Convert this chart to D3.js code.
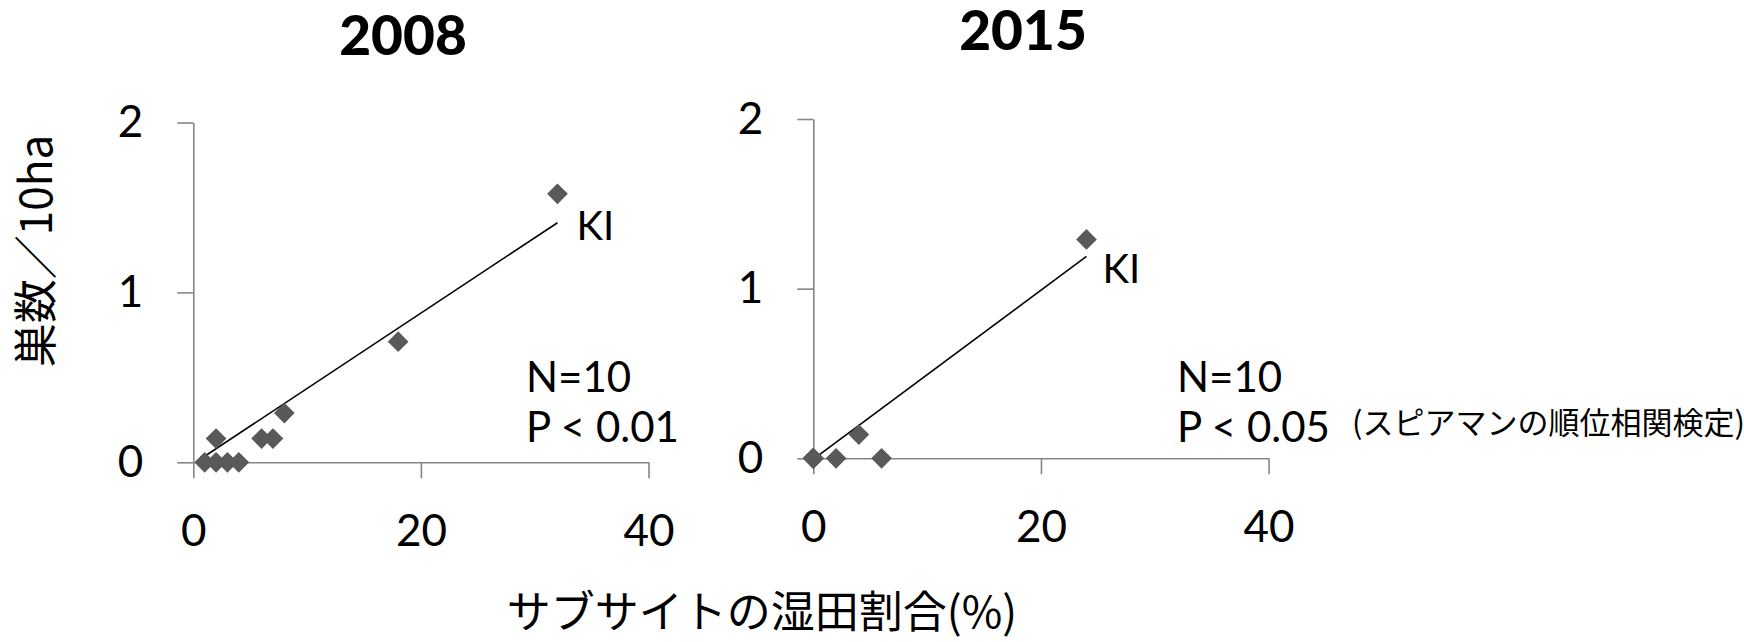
<!DOCTYPE html>
<html>
<head>
<meta charset="utf-8">
<script src="https://cdn.jsdelivr.net/npm/d3@7"></script>
<style>
  html, body { margin: 0; padding: 0; background: #fff; }
  svg { display: block; }
  text { font-family: Lato, "Noto Sans CJK JP", sans-serif; fill: #000; }
  .jp { font-family: "Noto Sans CJK JP", Lato, sans-serif; }
</style>
</head>
<body>
<svg id="chart" width="1744" height="642"></svg>
<script>
// Wet-paddy share of each subsite (%) vs. nests per 10 ha, two survey years
const years = ["2008", "2015"];

const wetShare2008 = [32, 18, 8, 6, 7, 2, 1, 2, 3, 4];
const nests2008    = [1.58, 0.71, 0.29, 0.14, 0.14, 0.14, 0, 0, 0, 0];

const wetShare2015 = [24, 4, 0, 2, 6, 0, 0, 0, 0, 0];
const nests2015    = [1.29, 0.14, 0, 0, 0, 0, 0, 0, 0, 0];

// fitted line end points [x, y]
const trend2008 = [[1.1, 0.04], [32, 1.41]];
const trend2015 = [[0.1, 0.0], [24, 1.19]];

const xTicks = [0, 20, 40];
const yTicks = [0, 1, 2];

const nLabels = ["N=10", "N=10"];
const pLabels = ["P < 0.01", "P < 0.05"];
const pointLabel = "KI";
const testNote = "(スピアマンの順位相関検定)";
const xTitle = "サブサイトの湿田割合(%)";
const yTitle = "巣数／10ha";

const svg = d3.select("#chart");

const panels = [
  { year: years[0], xs: wetShare2008, ys: nests2008, trend: trend2008,
    x0: 193.3, x1: 648.5, yBottom: 462.3, yTop: 122.5,
    titleX: 403, titleY: 55, kiDx: 19, kiDy: 46,
    statX: 526, n: nLabels[0], p: pLabels[0] },
  { year: years[1], xs: wetShare2015, ys: nests2015, trend: trend2015,
    x0: 813.3, x1: 1268.6, yBottom: 458.3, yTop: 119,
    titleX: 1023, titleY: 50, kiDx: 16, kiDy: 44,
    statX: 1177, n: nLabels[1], p: pLabels[1] }
];

const axisColor = "#868686";
const markColor = "#595959";
const diamond = d3.symbol().type(d3.symbolSquare).size(215);

panels.forEach(pn => {
  const x = d3.scaleLinear().domain([0, 40]).range([pn.x0, pn.x1]);
  const y = d3.scaleLinear().domain([0, 2]).range([pn.yBottom, pn.yTop]);

  // y axis
  const gy = svg.append("g")
    .attr("transform", `translate(${pn.x0},0)`)
    .call(d3.axisLeft(y).tickValues(yTicks).tickFormat(d3.format("d"))
      .tickSize(16).tickSizeOuter(0).tickPadding(34));
  // x axis
  const gx = svg.append("g")
    .attr("transform", `translate(0,${pn.yBottom})`)
    .call(d3.axisBottom(x).tickValues(xTicks).tickFormat(d3.format("d"))
      .tickSize(16).tickSizeOuter(0).tickPadding(36));

  [gx, gy].forEach(g => {
    g.select(".domain").attr("stroke", axisColor).attr("stroke-width", 1.6);
    g.selectAll(".tick line").attr("stroke", axisColor).attr("stroke-width", 1.6);
    g.selectAll(".tick text")
      .attr("fill", "#000")
      .style("font-family", "Lato, sans-serif")
      .style("font-size", "44px");
  });

  // fitted line
  svg.append("line")
    .attr("x1", x(pn.trend[0][0])).attr("y1", y(pn.trend[0][1]))
    .attr("x2", x(pn.trend[1][0])).attr("y2", y(pn.trend[1][1]))
    .attr("stroke", "#000").attr("stroke-width", 1.6);

  // points
  const pts = pn.xs.map((v, i) => ({ x: v, y: pn.ys[i] }));
  svg.append("g").selectAll("path").data(pts).join("path")
    .attr("d", diamond)
    .attr("transform", d => `translate(${x(d.x)},${y(d.y)}) rotate(45)`)
    .attr("fill", markColor);

  // label next to the top site
  const top = pts.reduce((a, b) => (b.y > a.y ? b : a));
  svg.append("text")
    .attr("x", x(top.x) + pn.kiDx).attr("y", y(top.y) + pn.kiDy)
    .style("font-size", "40px").text(pointLabel);

  // year title
  svg.append("text")
    .attr("x", pn.titleX).attr("y", pn.titleY)
    .attr("text-anchor", "middle")
    .style("font-size", "55px").style("font-weight", "900")
    .text(pn.year);

  // sample size and significance
  svg.append("text").attr("x", pn.statX).attr("y", 392)
    .style("font-size", "42px").text(pn.n);
  svg.append("text").attr("x", pn.statX).attr("y", 442)
    .style("font-size", "42px").text(pn.p);
});

// test note
svg.append("text").attr("class", "jp")
  .attr("x", 1352).attr("y", 434)
  .style("font-size", "31px").text(testNote);

// axis titles
svg.append("text").attr("class", "jp")
  .attr("x", 762).attr("y", 628)
  .attr("text-anchor", "middle")
  .style("font-size", "44px").text(xTitle);

svg.append("text").attr("class", "jp")
  .attr("transform", "translate(33,251) rotate(-90)")
  .attr("text-anchor", "middle")
  .attr("dominant-baseline", "central")
  .style("font-size", "44px").text(yTitle);
</script>
</body>
</html>
